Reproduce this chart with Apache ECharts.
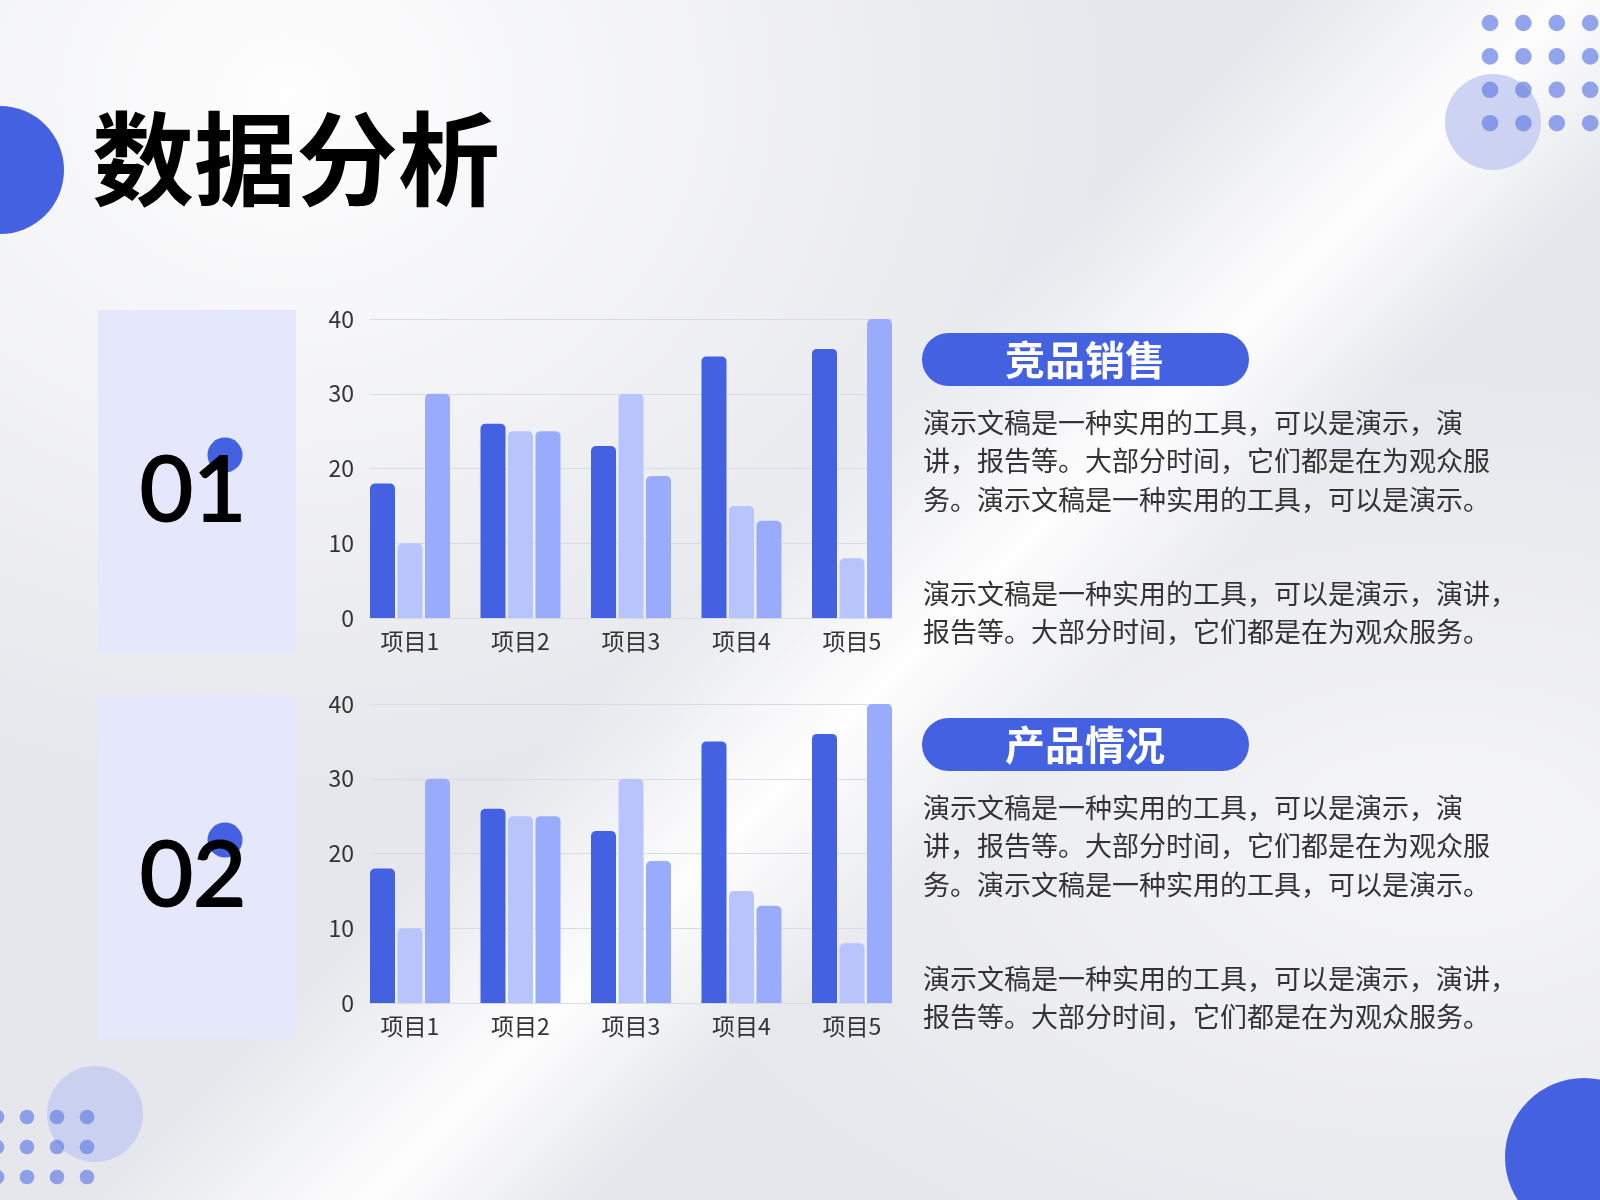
<!DOCTYPE html>
<html>
<head>
<meta charset="utf-8">
<title>数据分析</title>
<style>
html,body{
    margin:0;
    padding:0;
}
body{
    width:1600px;
    height:1200px;
    overflow:hidden;
    background:
        linear-gradient(135deg, rgba(255,255,255,0) 46%, rgba(255,255,255,0.95) 56%, rgba(255,255,255,0) 64%),
        radial-gradient(ellipse at 18% 8%, rgba(255,255,255,0.95) 0%, rgba(255,255,255,0) 45%),
        radial-gradient(ellipse at 90% 70%, rgba(255,255,255,0.6) 0%, rgba(255,255,255,0) 40%),
        #e6e7ec;
}
#main{
    width:1600px;
    height:1200px;
}
</style>
</head>
<body>
<div id="main"></div>
<script src="https://cdn.jsdelivr.net/npm/echarts@6/dist/echarts.min.js"></script>
<script type="text/javascript">

// 数据
var categories = ['项目1', '项目2', '项目3', '项目4', '项目5'];
var seriesA = [18, 26, 23, 35, 36];
var seriesB = [10, 25, 30, 15, 8];
var seriesC = [30, 25, 19, 13, 40];
var seriesNames = ['系列1', '系列2', '系列3'];
var yMin = 0, yMax = 40, yStep = 10;

var titles = ['竞品销售', '产品情况'];
var numbers = ['01', '02'];
var para1 = '演示文稿是一种实用的工具，可以是演示，演\n讲，报告等。大部分时间，它们都是在为观众服\n务。演示文稿是一种实用的工具，可以是演示。';
var para2 = '演示文稿是一种实用的工具，可以是演示，演讲，\n报告等。大部分时间，它们都是在为观众服务。';

var colors = ['#4361e0', '#b7c5fc', '#98abfc'];
var FONT = '"Noto Sans CJK SC", "Noto Sans", sans-serif';
var OFF = 385; // 两块之间的垂直间距

var myChart = echarts.init(document.getElementById('main'));

// 装饰
var graphics = [];
graphics.push({type:'circle', shape:{cx:0, cy:170, r:64}, style:{fill:'#4361e0'}});
graphics.push({type:'circle', shape:{cx:1584, cy:1157, r:79}, style:{fill:'#4361e0'}});
graphics.push({type:'circle', shape:{cx:1493, cy:122, r:48}, style:{fill:'#c3cbf1', opacity:0.85}});
graphics.push({type:'circle', shape:{cx:95, cy:1114, r:48}, style:{fill:'#c3cbf1', opacity:0.85}});
for (var i = 0; i < 4; i++) {
    for (var j = 0; j < 4; j++) {
        graphics.push({type:'circle', shape:{cx:1490 + j * 33.4, cy:23 + i * 33.4, r:8.3}, style:{fill:'#6f87e6', opacity:0.75}});
    }
}
for (var i = 0; i < 3; i++) {
    for (var j = 0; j < 4; j++) {
        graphics.push({type:'circle', shape:{cx:-3 + j * 30, cy:1117 + i * 30, r:7.3}, style:{fill:'#6f87e6', opacity:0.75}});
    }
}
graphics.push({
    type:'text', left:92, top:160 - 52,
    style:{text:'数据分析', font:'bold 102px ' + FONT, fill:'#000'}
});

for (var k = 0; k < 2; k++) {
    var dy = k * OFF;
    graphics.push({type:'rect', shape:{x:98, y:310 + dy, width:198, height:344}, style:{fill:'#e5e8fa'}});
    graphics.push({type:'circle', shape:{cx:225, cy:455 + dy, r:17.5}, style:{fill:'#4361e0'}, z:1});
    graphics.push({
        type:'text', x:193, y:491 + dy, z:2,
        style:{text:numbers[k], font:'92px Lato, "DejaVu Sans", sans-serif', fill:'#000', textAlign:'center', textVerticalAlign:'middle', stroke:'#000', lineWidth:2}
    });
    graphics.push({type:'rect', shape:{x:922, y:333 + dy, width:327, height:53, r:26.5}, style:{fill:'#4361e0'}});
    graphics.push({
        type:'text', x:1085, y:360 + dy,
        style:{text:titles[k], font:'bold 40px ' + FONT, fill:'#fff', textAlign:'center', textVerticalAlign:'middle'}
    });
    graphics.push({
        type:'text', x:923, y:403 + dy,
        style:{text:para1, font:'27px ' + FONT, fill:'#333', lineHeight:38.7, textVerticalAlign:'top'}
    });
    graphics.push({
        type:'text', x:923, y:574 + dy,
        style:{text:para2, font:'27px ' + FONT, fill:'#333', lineHeight:38.7, textVerticalAlign:'top'}
    });
}

function lineGrid(top){ return {left:370, right:708, top:top, height:299}; }
function barGrid(top){ return {left:354.75, right:692.75, top:top, height:299}; }

var grids = [lineGrid(319), barGrid(319), lineGrid(319 + OFF), barGrid(319 + OFF)];
var xAxes = [], yAxes = [];
for (var g = 0; g < 4; g++) {
    var isBar = (g % 2 == 1);
    xAxes.push({
        type:'category', gridIndex:g, data:categories, show:isBar,
        axisLine:{show:false}, axisTick:{show:false},
        axisLabel:{fontSize:23, color:'#333', margin:12, fontFamily:FONT}
    });
    yAxes.push({
        type:'value', gridIndex:g, min:yMin, max:yMax, interval:yStep, show:!isBar,
        axisLine:{show:false}, axisTick:{show:false},
        axisLabel:{fontSize:23, color:'#333', margin:16, fontFamily:FONT},
        splitLine:{lineStyle:{color:'#d9dbe2', width:1}}
    });
}

var allData = [seriesA, seriesB, seriesC];
var series = [];
for (var c = 0; c < 2; c++) {
    for (var s = 0; s < 3; s++) {
        series.push({
            name:seriesNames[s],
            type:'bar',
            xAxisIndex:c * 2 + 1,
            yAxisIndex:c * 2 + 1,
            barWidth:25,
            barGap:'10%',
            data:allData[s],
            itemStyle:{color:colors[s], borderRadius:[5, 5, 0, 0]}
        });
    }
}

option = {
    animation:false,
    backgroundColor:'transparent',
    textStyle:{fontFamily:FONT},
    graphic:graphics,
    grid:grids,
    xAxis:xAxes,
    yAxis:yAxes,
    series:series
};

myChart.setOption(option);

</script>
</body>
</html>
